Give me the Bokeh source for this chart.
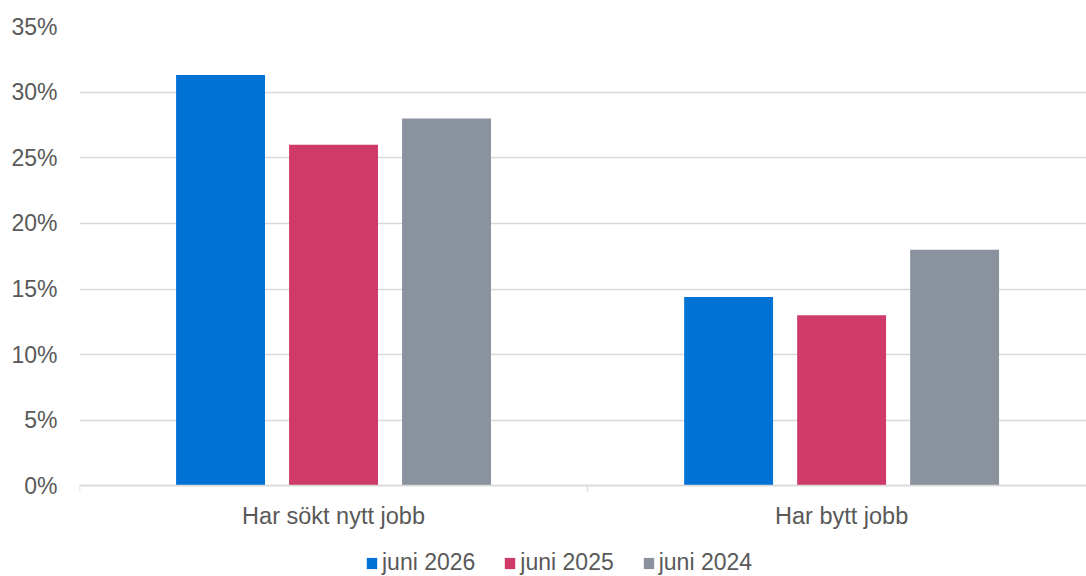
import numpy as np
from bokeh.plotting import figure
from bokeh.models import (Range1d, FixedTicker, NumeralTickFormatter, Legend, LegendItem)
from bokeh.embed import file_html
from bokeh.resources import INLINE

categories = ["Har sökt nytt jobb", "Har bytt jobb"]
series_names = ["juni 2026", "juni 2025", "juni 2024"]
juni_2026 = [0.313, 0.144]
juni_2025 = [0.260, 0.130]
juni_2024 = [0.280, 0.180]
colors = ["#0072D6", "#CF3A69", "#8A929E"]
y_ticks = [0, 0.05, 0.10, 0.15, 0.20, 0.25, 0.30, 0.35]

FONT = "Liberation Sans"
TXT = "#595959"
FS = "23px"

# frame spans from top gridline down to the bottom of the canvas;
# the area below 0 holds the category labels and the legend
p = figure(width=1086, height=576, output_backend="svg", toolbar_location=None,
           x_range=Range1d(0, 1.982), y_range=Range1d(-0.069, 0.35),
           min_border_left=79, min_border_right=0, min_border_top=26,
           min_border_bottom=0)
p.outline_line_color = None
p.background_fill_color = "white"

centers = np.arange(len(categories)) + 0.5
offsets = [-0.2224, 0.0, 0.2224]
bw = 0.175
items = []
for vals, name, col, off in zip([juni_2026, juni_2025, juni_2024], series_names, colors, offsets):
    r = p.vbar(x=centers + off, top=vals, width=bw, bottom=0, fill_color=col, line_color=None)
    items.append(LegendItem(label=name, renderers=[r]))

# Y axis
p.yaxis.ticker = FixedTicker(ticks=y_ticks)
p.yaxis.formatter = NumeralTickFormatter(format="0%")
p.yaxis.axis_line_color = None
p.yaxis.major_tick_line_color = None
p.yaxis.minor_tick_line_color = None
p.yaxis.major_tick_out = 0
p.yaxis.major_label_standoff = 22
p.yaxis.major_label_text_font = FONT
p.yaxis.major_label_text_font_size = FS
p.yaxis.major_label_text_color = TXT

p.ygrid.ticker = FixedTicker(ticks=y_ticks)
p.ygrid.grid_line_color = "#D9D9D9"
p.ygrid.grid_line_width = 1.5
p.xgrid.grid_line_color = None

# X axis pinned at y = 0
p.xaxis.fixed_location = 0
p.xaxis.ticker = FixedTicker(ticks=list(centers), minor_ticks=[0, 1, 2])
p.xaxis.major_label_overrides = {float(c): cat for c, cat in zip(centers, categories)}
p.xaxis.axis_line_color = "#D9D9D9"
p.xaxis.axis_line_width = 1.5
p.xaxis.major_tick_line_color = None
p.xaxis.major_tick_out = 0
p.xaxis.minor_tick_line_color = "#D9D9D9"
p.xaxis.minor_tick_line_width = 1.5
p.xaxis.minor_tick_in = 0
p.xaxis.minor_tick_out = 6
p.xaxis.major_label_standoff = 11
p.xaxis.major_label_text_font = FONT
p.xaxis.major_label_text_font_size = "23.5px"
p.xaxis.major_label_text_color = TXT

legend = Legend(items=items, orientation="horizontal", location=(286, 0),
                border_line_color=None, background_fill_alpha=0,
                padding=0, margin=0, spacing=28,
                glyph_width=13, glyph_height=14, label_standoff=4,
                label_text_font=FONT, label_text_font_size=FS,
                label_text_color=TXT)
p.add_layout(legend, "center")

open("out.html", "w").write(file_html(p, INLINE))
